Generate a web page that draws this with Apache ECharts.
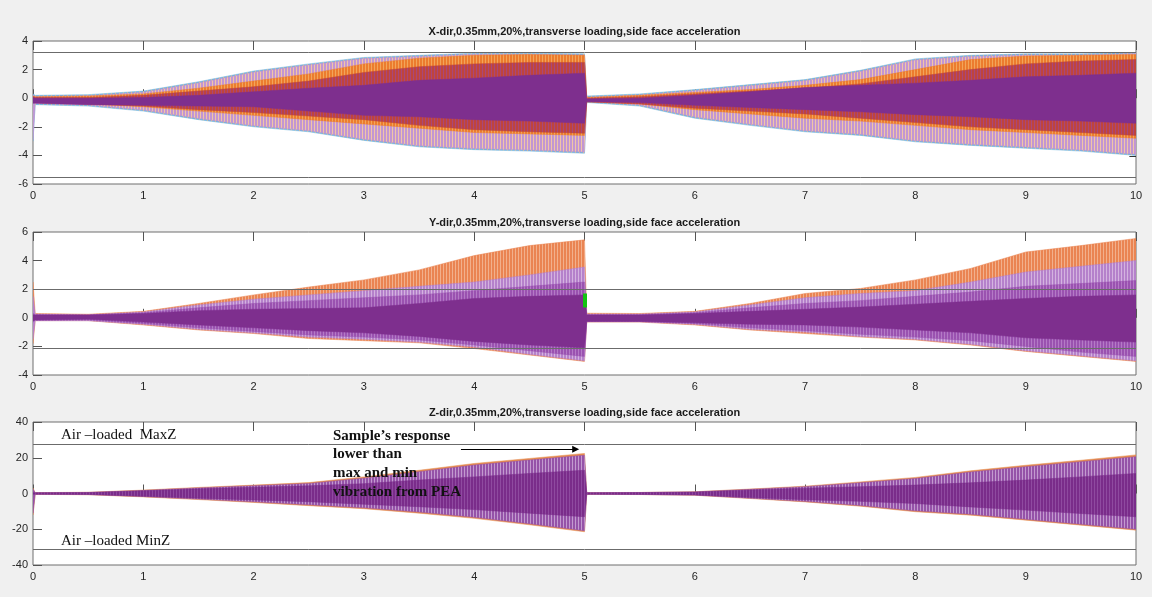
<!DOCTYPE html>
<html>
<head>
<meta charset="utf-8">
<script src="https://cdn.jsdelivr.net/npm/echarts@6/dist/echarts.min.js"></script>
<style>
  html, body { margin: 0; padding: 0; background: #f0f0f0; }
  #chart { width: 1152px; height: 597px; }
</style>
</head>
<body>
<div id="chart"></div>
<script>
// sample times (s) – the record restarts at 5 s
const times = [0, 0.02, 0.5, 1, 1.5, 2, 2.5, 3, 3.5, 4, 4.5, 5, 5.02, 5.5, 6, 6.5, 7, 7.5, 8, 8.5, 9, 9.5, 10]

// X-dir envelopes (upper / lower)
const xOuterHi  = [0.3, 0.2, 0.25, 0.5, 1.15, 1.9, 2.4, 2.85, 3.0, 3.15, 3.15, 3.1, 0.15, 0.3, 0.6, 0.95, 1.3, 1.95, 2.75, 3.0, 3.1, 3.1, 3.2]
const xOuterLo  = [-3.0, -0.45, -0.55, -0.9, -1.5, -2.0, -2.35, -2.95, -3.4, -3.6, -3.7, -3.85, -0.3, -0.55, -1.4, -1.9, -2.35, -2.6, -3.05, -3.3, -3.5, -3.7, -4.0]
const xLightHi  = [0.22, 0.12, 0.17, 0.42, 1.07, 1.82, 2.32, 2.77, 2.92, 3.07, 3.07, 3.02, 0.07, 0.22, 0.52, 0.87, 1.22, 1.87, 2.67, 2.92, 3.02, 3.02, 3.12]
const xLightLo  = [-2.9, -0.37, -0.47, -0.82, -1.42, -1.92, -2.27, -2.87, -3.32, -3.52, -3.62, -3.77, -0.22, -0.47, -1.32, -1.82, -2.27, -2.52, -2.97, -3.22, -3.42, -3.62, -3.92]
const xOrangeHi = [0.15, 0.1, 0.15, 0.3, 0.7, 1.2, 1.7, 2.4, 2.8, 3.0, 3.05, 3.0, 0.05, 0.2, 0.4, 0.6, 0.9, 1.3, 2.0, 2.7, 2.95, 3.0, 3.05]
const xOrangeLo = [-0.3, -0.3, -0.4, -0.6, -0.9, -1.2, -1.5, -1.8, -2.1, -2.4, -2.5, -2.6, -0.25, -0.4, -0.8, -1.1, -1.4, -1.6, -1.9, -2.2, -2.4, -2.6, -2.8]
const xRedHi    = [0.1, 0.05, 0.05, 0.2, 0.5, 0.8, 1.2, 1.8, 2.2, 2.4, 2.5, 2.5, 0.0, 0.1, 0.3, 0.5, 0.7, 1.0, 1.5, 2.0, 2.4, 2.6, 2.7]
const xRedLo    = [-0.3, -0.3, -0.4, -0.55, -0.8, -1.0, -1.25, -1.5, -1.9, -2.2, -2.35, -2.45, -0.25, -0.4, -0.7, -0.9, -1.1, -1.4, -1.7, -2.0, -2.2, -2.4, -2.6]
const xCoreHi   = [0.05, 0.0, 0.0, 0.05, 0.2, 0.45, 0.7, 0.9, 1.25, 1.4, 1.6, 1.75, -0.05, 0.0, 0.2, 0.45, 0.75, 0.9, 1.05, 1.25, 1.5, 1.6, 1.75]
const xCoreLo   = [-0.35, -0.35, -0.45, -0.5, -0.55, -0.6, -0.9, -1.2, -1.3, -1.5, -1.6, -1.75, -0.25, -0.3, -0.5, -0.65, -0.8, -0.95, -1.15, -1.3, -1.5, -1.6, -1.75]

// Y-dir envelopes
const yOuterHi = [2.5, 0.3, 0.25, 0.45, 1.0, 1.6, 2.15, 2.65, 3.35, 4.35, 5.05, 5.45, 0.32, 0.3, 0.45, 1.0, 1.7, 2.05, 2.65, 3.45, 4.6, 5.05, 5.55]
const yOuterLo = [-1.8, -0.2, -0.2, -0.5, -0.85, -1.1, -1.45, -1.6, -1.75, -2.15, -2.6, -3.05, -0.3, -0.3, -0.5, -0.85, -1.1, -1.35, -1.55, -1.9, -2.35, -2.7, -3.05]
const yLightHi = [1.5, 0.25, 0.2, 0.4, 0.9, 1.3, 1.6, 1.9, 2.2, 2.5, 3.0, 3.55, 0.25, 0.25, 0.4, 0.9, 1.4, 1.7, 1.9, 2.5, 3.2, 3.6, 4.0]
const yLightLo = [-1.5, -0.2, -0.2, -0.45, -0.8, -1.05, -1.35, -1.5, -1.7, -2.05, -2.55, -3.0, -0.28, -0.28, -0.45, -0.8, -1.0, -1.3, -1.5, -1.85, -2.3, -2.65, -3.0]
const yMidHi   = [0.3, 0.22, 0.2, 0.35, 0.7, 1.0, 1.2, 1.4, 1.6, 1.9, 2.2, 2.5, 0.22, 0.22, 0.35, 0.7, 1.0, 1.2, 1.5, 1.8, 2.2, 2.4, 2.6]
const yMidLo   = [-0.3, -0.18, -0.15, -0.4, -0.7, -0.95, -1.2, -1.35, -1.55, -1.9, -2.3, -2.7, -0.26, -0.26, -0.4, -0.7, -0.9, -1.15, -1.35, -1.6, -2.0, -2.4, -2.7]
const yCoreHi  = [0.2, 0.2, 0.2, 0.3, 0.5, 0.6, 0.65, 0.7, 1.0, 1.35, 1.5, 1.6, 0.2, 0.2, 0.3, 0.45, 0.6, 0.75, 0.95, 1.15, 1.35, 1.5, 1.6]
const yCoreLo  = [-0.2, -0.15, -0.1, -0.3, -0.5, -0.7, -0.9, -1.05, -1.3, -1.65, -1.9, -2.1, -0.25, -0.25, -0.35, -0.45, -0.5, -0.65, -0.85, -1.05, -1.4, -1.55, -1.7]

// Z-dir envelopes
const zOuterHi = [3.0, 0.5, 0.7, 1.9, 3.4, 4.7, 6.1, 9.3, 13.0, 16.8, 19.6, 22.4, 0.5, 0.6, 1.0, 2.5, 4.1, 6.5, 9.0, 12.7, 15.8, 18.6, 21.6]
const zOuterLo = [-12.0, -0.5, -0.7, -1.9, -3.4, -5.0, -6.8, -8.5, -11.0, -13.9, -17.5, -21.4, -0.5, -0.6, -1.0, -2.8, -4.7, -7.1, -10.2, -12.1, -14.9, -17.7, -20.5]
const zMainHi  = [2.5, 0.45, 0.6, 1.7, 3.1, 4.3, 5.6, 8.6, 12.2, 15.9, 18.7, 21.4, 0.45, 0.55, 0.9, 2.3, 3.8, 6.0, 8.4, 12.0, 15.0, 17.8, 20.6]
const zMainLo  = [-11.0, -0.45, -0.6, -1.7, -3.1, -4.6, -6.3, -8.0, -10.4, -13.3, -16.9, -20.8, -0.45, -0.55, -0.9, -2.6, -4.4, -6.7, -9.7, -11.6, -14.4, -17.2, -20.0]
const zCoreHi  = [0.4, 0.4, 0.5, 1.5, 2.6, 3.5, 4.3, 5.5, 7.5, 9.3, 11.2, 13.0, 0.4, 0.5, 0.8, 2.0, 3.0, 3.8, 4.7, 6.0, 7.5, 9.3, 11.2]
const zCoreLo  = [-0.4, -0.4, -0.5, -1.5, -2.6, -3.6, -4.6, -6.0, -7.4, -9.0, -11.0, -13.0, -0.4, -0.5, -0.8, -2.2, -3.5, -4.4, -5.6, -7.5, -9.3, -11.2, -13.0]

// horizontal reference lines per panel
const xRefLines = [3.2, -5.55]
const yRefLines = [2, -2.1]
const zRefLines = [27.4, -31.1]

const titles = [
  'X-dir,0.35mm,20%,transverse loading,side face acceleration',
  'Y-dir,0.35mm,20%,transverse loading,side face acceleration',
  'Z-dir,0.35mm,20%,transverse loading,side face acceleration',
]

const gridTops = [41, 232, 422]
const yRanges = [[-6, 4, 2], [-4, 6, 2], [-40, 40, 20]]

const chart = echarts.init(document.getElementById('chart'))

// vertical stripe fill, imitates the dense oscillation traces
const stripes = (color, gap, period) => {
  const c = document.createElement('canvas')
  c.width = period
  c.height = 4
  const ctx = c.getContext('2d')
  ctx.fillStyle = color
  ctx.fillRect(0, 0, period, 4)
  ctx.fillStyle = gap
  ctx.fillRect(period - 1, 0, 1, 4)
  return { image: c, repeat: 'repeat' }
}

// filled envelope between lo and hi, drawn once as one polygon through the axes
const band = (g, hi, lo, color, gap, period) => ({
  type: 'custom',
  xAxisIndex: g * 2,
  yAxisIndex: g,
  silent: true,
  clip: true,
  data: times.map((t, i) => [t, lo[i], hi[i]]),
  encode: { x: 0, y: [1, 2] },
  renderItem: (params, api) => {
    if (params.dataIndex !== 0) return null
    const top = times.map((t, i) => api.coord([t, hi[i]]))
    const bottom = times.map((t, i) => api.coord([t, lo[i]])).reverse()
    return {
      type: 'polygon',
      shape: { points: top.concat(bottom) },
      style: { fill: gap ? stripes(color, gap, period || 3) : color, stroke: color, lineWidth: 0.5 },
    }
  },
})

const refSeries = (g, values, extra) => ({
  type: 'line',
  xAxisIndex: g * 2,
  yAxisIndex: g,
  data: [],
  z: 5,
  silent: true,
  markLine: {
    silent: true,
    symbol: 'none',
    label: { show: false },
    lineStyle: { color: '#6b6b6b', width: 1, type: 'solid' },
    data: values.map(v => ({ yAxis: v })).concat(extra || []),
  },
})

const xAxes = []
const yAxes = []
const grids = []
gridTops.forEach((top, g) => {
  grids.push({ left: 33, width: 1103, top, height: 143, show: true, backgroundColor: '#fff', borderColor: '#6e6e6e', borderWidth: 1 })
  const base = {
    gridIndex: g, type: 'value', min: 0, max: 10, interval: 1,
    axisLine: { show: false },
    axisTick: { inside: true, length: 9, lineStyle: { color: '#555' } },
    splitLine: { show: false },
  }
  xAxes.push({ ...base, position: 'bottom',
    axisLabel: { color: '#262626', fontSize: 11, fontFamily: 'Liberation Sans', margin: 6 } })
  xAxes.push({ ...base, position: 'top', axisLabel: { show: false } })
  yAxes.push({
    gridIndex: g, type: 'value', min: yRanges[g][0], max: yRanges[g][1], interval: yRanges[g][2],
    axisLine: { show: false },
    axisTick: { inside: true, length: 9, lineStyle: { color: '#555' } },
    splitLine: { show: false },
    axisLabel: { color: '#262626', fontSize: 11, fontFamily: 'Liberation Sans', margin: 5 },
  })
})

const series = [
  band(0, xOuterHi, xOuterLo, '#6fb2df', '#f3c66e', 4),
  band(0, xLightHi, xLightLo, '#c296d2', '#f0c5a8', 3),
  band(0, xOrangeHi, xOrangeLo, '#ec7c2e', '#f2a55a', 3),
  band(0, xRedHi, xRedLo, '#bf443d', '#a8477a', 3),
  band(0, xCoreHi, xCoreLo, '#7e2f8e'),
  refSeries(0, xRefLines, [[
    { coord: [9.94, -4.05], lineStyle: { color: '#333', width: 1 } },
    { coord: [10, -4.05] },
  ]]),

  band(1, yOuterHi, yOuterLo, '#ea8452', '#f2b08c', 3),
  band(1, yLightHi, yLightLo, '#b581cb', '#d4b3e0', 3),
  band(1, yMidHi, yMidLo, '#9a52b0', '#b47ac6', 3),
  band(1, yCoreHi, yCoreLo, '#7e2f8e'),
  refSeries(1, yRefLines, [[
    { coord: [5, 0.72], lineStyle: { color: '#12c412', width: 4 } },
    { coord: [5, 1.7] },
  ]]),

  band(2, zOuterHi, zOuterLo, '#e58a4e'),
  band(2, zMainHi, zMainLo, '#9553a8', '#c39ad0', 3),
  band(2, zCoreHi, zCoreLo, '#7a2c8a', '#8f4aa0', 3),
  refSeries(2, zRefLines, [[
    { coord: [3.88, 24.8], symbol: 'none', lineStyle: { color: '#000', width: 1 } },
    { coord: [4.92, 24.8], symbol: 'triangle', symbolSize: [7, 7], symbolRotate: -90 },
  ]]),
]

const serif = '"Liberation Serif", "Times New Roman", serif'
const graphic = titles.map((text, g) => ({
  type: 'text',
  x: 584.5,
  y: gridTops[g] - 9,
  style: {
    text,
    font: 'bold 11px "Liberation Sans", Arial, sans-serif',
    fill: '#1a1a1a',
    textAlign: 'center',
    textVerticalAlign: 'middle',
  },
})).concat([
  { type: 'text', x: 61, y: 435, z: 100,
    style: { text: 'Air \u2013loaded  MaxZ', font: '15px ' + serif, fill: '#111', textVerticalAlign: 'middle' } },
  { type: 'text', x: 61, y: 541, z: 100,
    style: { text: 'Air \u2013loaded MinZ', font: '15px ' + serif, fill: '#111', textVerticalAlign: 'middle' } },
  { type: 'text', x: 333, y: 426.5, z: 100,
    style: {
      text: 'Sample\u2019s response\nlower than\nmax and min\nvibration from PEA',
      font: 'bold 15px ' + serif, lineHeight: 18.7, fill: '#111', textVerticalAlign: 'top',
    } },
])

chart.setOption({
  backgroundColor: '#f0f0f0',
  animation: false,
  grid: grids,
  xAxis: xAxes,
  yAxis: yAxes,
  series,
  graphic,
})
</script>
</body>
</html>
